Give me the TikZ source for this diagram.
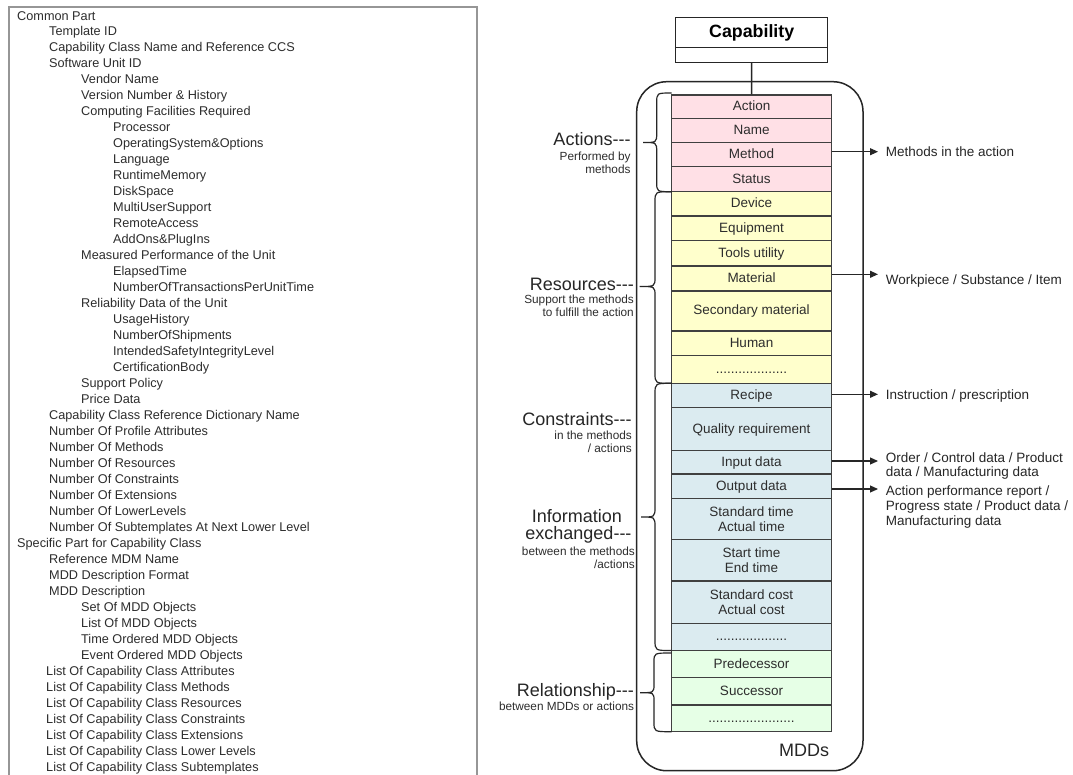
\documentclass[tikz,border=0pt]{standalone}
\usepackage{fontspec}
\setmainfont{Liberation Sans}
\usetikzlibrary{arrows.meta}
\definecolor{pinkc}{RGB}{255,224,230}
\definecolor{yellowc}{RGB}{255,255,204}
\definecolor{bluec}{RGB}{219,235,240}
\definecolor{greenc}{RGB}{230,255,230}
\definecolor{rowc}{RGB}{64,64,64}
\definecolor{txtc}{RGB}{45,45,45}
\definecolor{boxc}{RGB}{150,150,150}
\newcommand\tdash{-{}-{}-}
\begin{document}
\begin{tikzpicture}[x=1pt,y=-1pt,
  lt/.style={anchor=base west, inner sep=0pt, font=\fontsize{12.7pt}{15pt}\selectfont, text=txtc},
  row/.style={draw=rowc, line width=1.1pt, minimum width=160pt, inner sep=0pt, font=\fontsize{13.5pt}{15pt}\selectfont, text=txtc, align=center},
  srow/.style={row, text height=9.7pt, text depth=2pt},
  biglab/.style={anchor=base east, inner sep=0pt, font=\fontsize{18pt}{20pt}\selectfont, text=black!85},
  smlab/.style={anchor=base east, inner sep=0pt, font=\fontsize{11.8pt}{14pt}\selectfont, text=txtc},
  rlab/.style={anchor=base west, inner sep=0pt, font=\fontsize{13.5pt}{15pt}\selectfont, text=black!85},
  arr/.style={line width=1.1pt, draw=black!85, -{Triangle[length=8pt,width=7pt]}},
  bracestyle/.style={line width=1.2pt, draw=black!85},
  outline/.style={line width=1.5pt, draw=black!85}]
\useasboundingbox (0,0) rectangle (1073,774);
\fill[white] (0,0) rectangle (1073,774);

% ---------------- left box ----------------
\draw[boxc, line width=1.2pt] (9,776) -- (9,7) -- (477,7) -- (477,776);
\foreach \lx/\ltext [count=\i from 0] in {
17/Common Part,
49/Template ID,
49/Capability Class Name and Reference CCS,
49/Software Unit ID,
81/Vendor Name,
81/Version Number \& History,
81/Computing Facilities Required,
113/Processor,
113/OperatingSystem\&Options,
113/Language,
113/RuntimeMemory,
113/DiskSpace,
113/MultiUserSupport,
113/RemoteAccess,
113/AddOns\&PlugIns,
81/Measured Performance of the Unit,
113/ElapsedTime,
113/NumberOfTransactionsPerUnitTime,
81/Reliability Data of the Unit,
113/UsageHistory,
113/NumberOfShipments,
113/IntendedSafetyIntegrityLevel,
113/CertificationBody,
81/Support Policy,
81/Price Data,
49/Capability Class Reference Dictionary Name,
49/Number Of Profile Attributes,
49/Number Of Methods,
49/Number Of Resources,
49/Number Of Constraints,
49/Number Of Extensions,
49/Number Of LowerLevels,
49/Number Of Subtemplates At Next Lower Level,
17/Specific Part for Capability Class,
49/Reference MDM Name,
49/MDD Description Format,
49/MDD Description,
81/Set Of MDD Objects,
81/List Of MDD Objects,
81/Time Ordered MDD Objects,
81/Event Ordered MDD Objects,
46/List Of Capability Class Attributes,
46/List Of Capability Class Methods,
46/List Of Capability Class Resources,
46/List Of Capability Class Constraints,
46/List Of Capability Class Extensions,
46/List Of Capability Class Lower Levels,
46/List Of Capability Class Subtemplates}
  \node[lt] (L\i) at (\lx,{20+15.98*\i}) {\ltext};

% ---------------- right diagram ----------------
\node[outline, rounded corners=30pt, minimum width=226.3pt, minimum height=689pt, inner sep=0pt] (mdd) at (749.85,426.2) {};
\node[outline, minimum width=152pt, minimum height=30.4pt, inner sep=0pt, font=\fontsize{17.8pt}{20pt}\selectfont\bfseries] (cap) at (751.7,32.5) {Capability};
\node[outline, minimum width=152pt, minimum height=14.6pt, inner sep=0pt] (capb) at (751.7,55) {};

\node[srow, fill=pinkc, minimum height=23.3pt] (action) at (751.5,106.65) {Action};
\node[srow, fill=pinkc, minimum height=24.4pt] (name) at (751.5,130.5) {Name};
\node[srow, fill=pinkc, minimum height=24pt] (method) at (751.5,154.7) {Method};
\node[srow, fill=pinkc, minimum height=25pt] (status) at (751.5,179.2) {Status};
\node[srow, fill=yellowc, minimum height=24.3pt] (device) at (751.5,203.85) {Device};
\node[srow, fill=yellowc, minimum height=24.7pt] (equip) at (751.5,228.35) {Equipment};
\node[srow, fill=yellowc, minimum height=25.3pt] (tools) at (751.5,253.35) {Tools utility};
\node[srow, fill=yellowc, minimum height=25pt] (material) at (751.5,278.5) {Material};
\node[srow, fill=yellowc, minimum height=40pt] (secmat) at (751.5,311) {Secondary material};
\node[srow, fill=yellowc, minimum height=24.7pt] (human) at (751.5,343.35) {Human};
\node[srow, fill=yellowc, minimum height=27.6pt] (ydots) at (751.5,369.5) {...................};
\node[srow, fill=bluec, minimum height=24.4pt] (recipe) at (751.5,395.5) {Recipe};
\node[srow, fill=bluec, minimum height=43pt] (quality) at (751.5,429.2) {Quality requirement};
\node[srow, fill=bluec, minimum height=23.3pt] (input) at (751.5,462.35) {Input data};
\node[srow, fill=bluec, minimum height=24.7pt] (output) at (751.5,486.35) {Output data};
\node[row, fill=bluec, minimum height=40.6pt] (stdtime) at (751.5,519) {Standard time\\Actual time};
\node[row, fill=bluec, minimum height=41.7pt] (start) at (751.5,560.15) {Start time\\End time};
\node[row, fill=bluec, minimum height=42.3pt] (stdcost) at (751.5,602.15) {Standard cost\\Actual cost};
\node[srow, fill=bluec, minimum height=27.4pt] (bdots) at (751.5,637) {...................};
\node[srow, fill=greenc, minimum height=27pt, line width=1.4pt] (pred) at (751.5,664.2) {Predecessor};
\node[srow, fill=greenc, minimum height=27.3pt] (succ) at (751.5,691.35) {Successor};
\node[srow, fill=greenc, minimum height=26.7pt] (gdots) at (751.5,718.35) {.......................};

\draw[outline] (capb.south) -- (action.north);

\node[anchor=base east, inner sep=0pt, font=\fontsize{18pt}{20pt}\selectfont, text=black!85] (mddlab) at (829.3,756.7) {MDDs};

% braces
\draw[bracestyle] (671.5,93) .. controls (656.7,93) .. (656.7,103) -- (656.7,133) .. controls (656.7,142.5) .. (643,142.5)
  .. controls (656.7,142.5) .. (656.7,152) -- (656.7,182) .. controls (656.7,191.7) .. (671.5,191.7);
\draw[bracestyle] (671.5,191.7) .. controls (655,191.7) .. (655,202) -- (655,277) .. controls (655,286.5) .. (639.5,286.5)
  .. controls (655,286.5) .. (655,296) -- (655,373) .. controls (655,383.3) .. (671.5,383.3);
\draw[bracestyle] (671.5,383.3) .. controls (655,383.3) .. (655,394) -- (655,507) .. controls (655,517) .. (641,517)
  .. controls (655,517) .. (655,527) -- (655,640) .. controls (655,650.5) .. (671.5,650.5);
\draw[bracestyle] (671.5,653) .. controls (654,653) .. (654,662) -- (654,684) .. controls (654,692.7) .. (640,692.7)
  .. controls (654,692.7) .. (654,701) -- (654,722) .. controls (654,731.7) .. (671.5,731.7);

% left labels
\node[biglab] (actlab) at (630.7,145.7) {Actions\tdash};
\node[smlab] (actlab1) at (630.7,160) {Performed by};
\node[smlab] (actlab2) at (630.7,173.3) {methods};
\node[biglab] (reslab) at (634,290.7) {Resources\tdash};
\node[smlab] (reslab1) at (634,303.5) {Support the methods};
\node[smlab] (reslab2) at (634,316.5) {to fulfill the action};
\node[biglab] (conlab) at (631.7,425) {Constraints\tdash};
\node[smlab] (conlab1) at (632,439.3) {in the methods};
\node[smlab] (conlab2) at (632,452.7) {/ actions};
\node[biglab] (inflab) at (622,522) {Information};
\node[biglab] (inflab0) at (631.7,539.3) {exchanged\tdash};
\node[smlab] (inflab1) at (635,555.7) {between the methods};
\node[smlab] (inflab2) at (635,568.3) {/actions};
\node[biglab] (rellab) at (634,696.7) {Relationship\tdash};
\node[smlab] (rellab1) at (634.3,710.7) {between MDDs or actions};

% right arrows and labels
\coordinate (a1) at (878,151.7);
\coordinate (a2) at (878,274.3);
\coordinate (a3) at (878,394.3);
\coordinate (a4) at (878,461);
\coordinate (a5) at (878,489);
\draw[arr] (method.east |- a1) -- (a1);
\draw[arr] (material.east |- a2) -- (a2);
\draw[arr] (recipe.east |- a3) -- (a3);
\draw[arr] (input.east |- a4) -- (a4);
\draw[arr] (output.east |- a5) -- (a5);
\node[rlab] (r1) at (885.7,156.7) {Methods in the action};
\node[rlab] (r2) at (885.7,284.3) {Workpiece / Substance / Item};
\node[rlab] (r3) at (885.7,399.3) {Instruction / prescription};
\node[rlab] (r4a) at (885.7,462.3) {Order / Control data / Product};
\node[rlab] (r4b) at (885.7,476) {data / Manufacturing data};
\node[rlab] (r5a) at (885.7,495.7) {Action performance report /};
\node[rlab] (r5b) at (885.7,510.7) {Progress state / Product data /};
\node[rlab] (r5c) at (885.7,525.5) {Manufacturing data};
\end{tikzpicture}
\end{document}
